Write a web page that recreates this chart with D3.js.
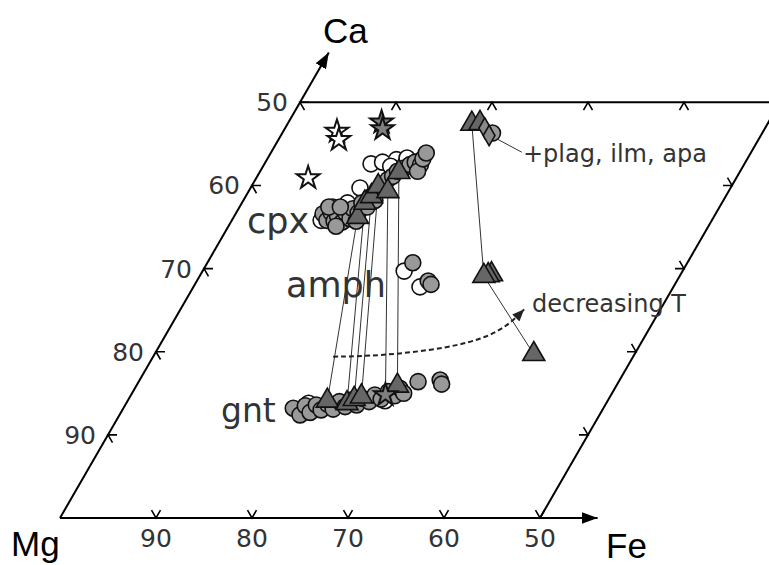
<!DOCTYPE html>
<html>
<head>
<meta charset="utf-8">
<script src="https://cdn.jsdelivr.net/npm/d3@7"></script>
<style>
  body { margin: 0; background: #fff; }
  svg { display: block; }
</style>
</head>
<body>
<svg id="chart" width="769" height="565"></svg>
<script>
// every point is [bottom-axis value, left-axis value]
var bottomTicks = [90, 80, 70, 60, 50];
var leftTicks = [90, 80, 70, 60, 50];
var topTicks = [90, 80, 70, 60];
var rightTicks = [90, 80, 70, 60];

var starsOpen = [[94.4, 53.5], [93.7, 54.5], [94.6, 59.1]];
var starsGray = [[90.3, 52.4], [89.8, 53.2], [73.5, 85.2]];

var cpxOpen = [[88.9, 57.4], [87.8, 57.2], [86.5, 56.9], [85.5, 56.7], [86.7, 57.7],
  [90.3, 62.6], [89.0, 62.1], [88.6, 60.3], [90.7, 64.2]];
var cpxGray = [[90.9, 63.4], [90.1, 64.2], [90.1, 63.3], [89.3, 64.3], [89.3, 63.6],
  [88.4, 64.4], [88.6, 63.3], [87.8, 64.0], [88.1, 62.8], [87.3, 63.3], [87.5, 62.1],
  [86.7, 62.6], [87.0, 61.4], [86.3, 61.8], [86.6, 60.5], [86.4, 60.0], [86.2, 59.3],
  [85.9, 58.9], [85.7, 58.3], [85.2, 57.9], [84.8, 57.5], [84.4, 57.2], [83.7, 57.5],
  [83.6, 58.3], [83.8, 56.8], [83.8, 56.1], [90.7, 62.6], [89.5, 62.6], [88.8, 64.9],
  [87.0, 64.3]];
var cpxTri = [[87.1, 63.8], [87.2, 62.1], [86.9, 61.3], [86.8, 60.1], [85.5, 60.7], [85.5, 58.4]];

var gntOpen = [[81.0, 86.2], [73.2, 85.9]];
var gntGray = [[82.3, 86.8], [81.2, 87.6], [81.2, 86.5], [80.3, 87.3], [80.1, 86.4],
  [79.3, 87.0], [79.0, 86.3], [78.1, 86.9], [77.9, 86.0], [77.0, 86.6], [76.8, 85.8],
  [75.9, 86.4], [75.7, 85.6], [74.8, 86.0], [74.6, 85.2], [73.7, 85.7], [73.4, 84.8],
  [72.5, 85.3], [72.4, 84.4], [71.7, 85.0], [70.9, 83.6], [68.7, 83.4], [68.3, 83.9]];
var gntTri = [[79.2, 85.9], [77.0, 86.2], [76.5, 85.7], [75.9, 85.4], [72.8, 84.1]];

// cpx - gnt tie lines
var ties = [
  [[87.1, 63.8], [79.2, 85.9]],
  [[87.2, 62.1], [77.0, 86.2]],
  [[86.9, 61.3], [76.5, 85.7]],
  [[86.8, 60.1], [75.9, 85.4]],
  [[85.5, 60.7], [73.5, 85.2]],
  [[85.5, 58.4], [72.8, 84.1]]
];

var amphOpen = [[79.0, 70.3], [76.4, 72.2]];
var amphGray = [[78.6, 69.3], [75.9, 71.5], [75.4, 71.9]];
var amphTri = [[69.7, 70.7], [70.0, 70.8], [70.4, 70.9]];
var lowTri = [[60.5, 80.3]];

var plagTri = [[80.8, 52.6], [80.0, 52.5]];
var plagDiamond = [[79.2, 53.1], [78.3, 54.0]];
var plagCircle = [[78.1, 53.7]];
var plagPath = [[80.8, 52.6], [70.4, 70.9], [60.5, 80.3]];
var plagLeader = [[77.5, 54.3], [73.9, 56.0]];

var coolingPath = [[81.25, 80.6], [76.4, 80.5], [69.9, 79.6], [66.1, 78.2], [64.7, 76.4], [64.2, 74.9]];

// geometry
var ox = 60, oy = 518, side = 480, s60 = Math.sqrt(3) / 2;
var sb = d3.scaleLinear().domain([100, 50]).range([0, side]);
var sl = d3.scaleLinear().domain([100, 50]).range([0, side]);
function px(d) { return ox + sb(d[0]) + sl(d[1]) * 0.5; }
function py(d) { return oy - sl(d[1]) * s60; }

var svg = d3.select('#chart');
var labelFont = '"DejaVu Sans", sans-serif';
var axisFont = '"Liberation Sans", Arial, sans-serif';

var defs = svg.append('defs');
defs.append('marker')
  .attr('id', 'axisHead')
  .attr('viewBox', '0 0 16 12')
  .attr('refX', 16).attr('refY', 6)
  .attr('markerWidth', 16).attr('markerHeight', 12)
  .attr('markerUnits', 'userSpaceOnUse')
  .attr('orient', 'auto')
  .append('path').attr('d', 'M0,0L16,6L0,12Z').attr('fill', '#000');
defs.append('marker')
  .attr('id', 'smallHead')
  .attr('viewBox', '0 0 12 10')
  .attr('refX', 12).attr('refY', 5)
  .attr('markerWidth', 12).attr('markerHeight', 10)
  .attr('markerUnits', 'userSpaceOnUse')
  .attr('orient', 'auto')
  .append('path').attr('d', 'M0,0L12,5L0,10Z').attr('fill', '#222');

var line = d3.line().x(px).y(py);

// frame
var frame = svg.append('g').attr('fill', 'none').attr('stroke', '#000').attr('stroke-width', 2);
frame.append('path').attr('d', line([[100, 100], [44, 100]])).attr('marker-end', 'url(#axisHead)');
frame.append('path').attr('d', line([[100, 100], [100, 44]])).attr('marker-end', 'url(#axisHead)');
frame.append('path').attr('d', line([[100, 50], [20, 50]]));
frame.append('path').attr('d', line([[50, 100], [50, 45]]));

// ticks point into the diagram along the other two edge directions
var tl = 9;
function tickPath(p, a1, a2) {
  var x = px(p), y = py(p), r = Math.PI / 180;
  return 'M' + (x + tl * Math.cos(a1 * r)) + ',' + (y - tl * Math.sin(a1 * r)) +
    'L' + x + ',' + y +
    'L' + (x + tl * Math.cos(a2 * r)) + ',' + (y - tl * Math.sin(a2 * r));
}
var ticks = svg.append('g').attr('fill', 'none').attr('stroke', '#000').attr('stroke-width', 1.6);
bottomTicks.forEach(function (t) { ticks.append('path').attr('d', tickPath([t, 100], 120, 60)); });
leftTicks.forEach(function (t) { ticks.append('path').attr('d', tickPath([100, t], 0, -60)); });
topTicks.forEach(function (t) { ticks.append('path').attr('d', tickPath([t, 50], 240, 300)); });
rightTicks.forEach(function (t) { ticks.append('path').attr('d', tickPath([50, t], 180, 120)); });

// tick labels
svg.append('g').selectAll('text').data(bottomTicks).join('text')
  .attr('x', function (t) { return px([t, 100]); })
  .attr('y', oy + 29)
  .attr('text-anchor', 'middle')
  .attr('font-family', labelFont).attr('font-size', 25).attr('fill', '#333')
  .text(function (t) { return t; });
svg.append('g').selectAll('text').data(leftTicks).join('text')
  .attr('x', function (t) { return px([100, t]) - 12; })
  .attr('y', function (t) { return py([100, t]) + 9; })
  .attr('text-anchor', 'end')
  .attr('font-family', labelFont).attr('font-size', 25).attr('fill', '#333')
  .text(function (t) { return t; });

// corner labels
svg.append('text').attr('x', 323).attr('y', 43).attr('font-family', axisFont)
  .attr('font-size', 35).text('Ca');
svg.append('text').attr('x', 11).attr('y', 556).attr('font-family', axisFont)
  .attr('font-size', 35).text('Mg');
svg.append('text').attr('x', 606).attr('y', 558).attr('font-family', axisFont)
  .attr('font-size', 35).text('Fe');

// phase labels
var labels = svg.append('g').attr('font-family', labelFont).attr('fill', '#333');
labels.append('text').attr('x', 247).attr('y', 233).attr('font-size', 35).text('cpx');
labels.append('text').attr('x', 286).attr('y', 297).attr('font-size', 35).text('amph');
labels.append('text').attr('x', 221).attr('y', 422).attr('font-size', 33).text('gnt');
labels.append('text').attr('x', 523).attr('y', 162).attr('font-size', 24).text('+plag, ilm, apa');
labels.append('text').attr('x', 532).attr('y', 312).attr('font-size', 24).text('decreasing T');

// tie lines
var tieG = svg.append('g').attr('fill', 'none').attr('stroke', '#333').attr('stroke-width', 1);
ties.forEach(function (t) { tieG.append('path').attr('d', line(t)); });
tieG.append('path').attr('d', line(plagPath));
tieG.append('path').attr('d', line(plagLeader));

// cooling arrow
svg.append('path')
  .attr('d', d3.line().x(px).y(py).curve(d3.curveBasis)(coolingPath))
  .attr('fill', 'none').attr('stroke', '#222').attr('stroke-width', 2)
  .attr('stroke-dasharray', '5,3')
  .attr('marker-end', 'url(#smallHead)');

// symbols
function circles(data, fill) {
  svg.append('g').selectAll('circle').data(data).join('circle')
    .attr('cx', px).attr('cy', py).attr('r', 8)
    .attr('fill', fill).attr('stroke', '#111').attr('stroke-width', 1.6);
}
function symbols(data, type, size, fill, sw) {
  var sym = d3.symbol().type(type).size(size);
  svg.append('g').selectAll('path').data(data).join('path')
    .attr('transform', function (d) { return 'translate(' + px(d) + ',' + py(d) + ')'; })
    .attr('d', sym)
    .attr('fill', fill).attr('stroke', '#111').attr('stroke-width', sw)
    .attr('stroke-linejoin', 'miter');
}

circles(cpxOpen, '#fff');
circles(cpxGray, '#999');
symbols(cpxTri, d3.symbolTriangle, 210, '#666', 1.6);

circles(gntOpen, '#fff');
circles(gntGray, '#999');
symbols(gntTri, d3.symbolTriangle, 210, '#666', 1.6);

circles(amphOpen, '#fff');
circles(amphGray, '#999');
symbols(amphTri, d3.symbolTriangle, 210, '#666', 1.6);
symbols(lowTri, d3.symbolTriangle, 210, '#666', 1.6);

symbols(plagTri, d3.symbolTriangle, 210, '#666', 1.6);
circles(plagCircle, '#999');
symbols(plagDiamond, d3.symbolDiamond, 120, '#888', 1.6);

symbols(starsOpen, d3.symbolStar, 160, '#fff', 2);
symbols(starsGray, d3.symbolStar, 160, '#808080', 2);
</script>
</body>
</html>
